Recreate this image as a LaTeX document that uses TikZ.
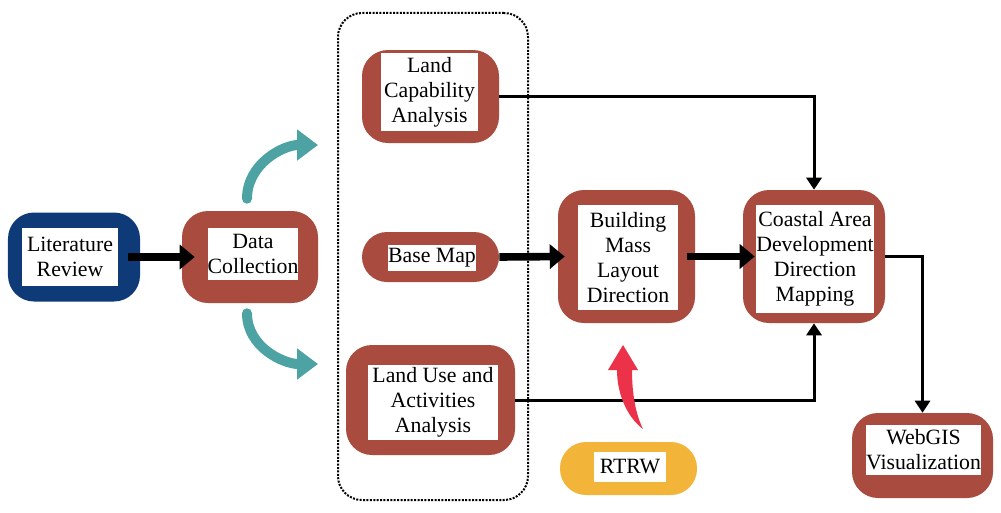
\documentclass[tikz,border=0pt]{standalone}
\usepackage{fontspec}
\setmainfont{Liberation Serif}
\usetikzlibrary{arrows.meta}
\definecolor{boxred}{RGB}{169,75,63}
\definecolor{boxblue}{RGB}{15,58,120}
\definecolor{boxteal}{RGB}{77,163,163}
\definecolor{boxyellow}{RGB}{242,181,58}
\definecolor{arrowred}{RGB}{236,50,72}
\begin{document}
\begin{tikzpicture}[x=0.25mm, y=-0.25mm]
\tikzset{outer/.style = {shape=rectangle, fill=boxred, rounded corners=6.5mm, inner sep=0pt}}
\tikzset{inner/.style = {shape=rectangle, fill=white, inner sep=0pt, align=center, font=\fontsize{15.5}{17.8}\selectfont}}
\tikzset{flow/.style = {line width=1.9mm, -{Triangle[length=3.75mm, width=6mm]}}}
\tikzset{link/.style = {line width=0.75mm, -{Triangle[length=3mm, width=3.75mm]}}}
\tikzset{tealcurve/.style = {draw=boxteal, line width=2.5mm, line cap=round, -{Triangle[length=5.25mm, width=7.5mm]}}}
\useasboundingbox (0,0) rectangle (1001,512);
% group of analyses
\node[draw, densely dotted, line width=0.5mm, rounded corners=6mm, minimum width=47.5mm, minimum height=121.75mm](grp) at (433,256.5) {};
% outer boxes
\node[outer, fill=boxblue, minimum width=33mm, minimum height=22.25mm](lit) at (74,257) {};
\node[outer, minimum width=34mm, minimum height=23mm](data) at (250,257) {};
\node[outer, minimum width=34.25mm, minimum height=23.25mm](cap) at (430.5,96.5) {};
\node[outer, rounded corners=6.25mm, minimum width=34.25mm, minimum height=12.5mm](base) at (430.5,257) {};
\node[outer, minimum width=42.25mm, minimum height=27.5mm](use) at (430.5,400) {};
\node[outer, minimum width=34.25mm, minimum height=33.25mm](build) at (626.5,256.5) {};
\node[outer, fill=boxyellow, minimum width=34.25mm, minimum height=13.25mm](rtrw) at (628.5,468.5) {};
\node[outer, minimum width=35.5mm, minimum height=33.25mm](coast) at (814,256.5) {};
\node[outer, minimum width=35.25mm, minimum height=21.25mm](web) at (922.5,455.5) {};
% text boxes
\node[inner, minimum width=24mm, minimum height=14.5mm](litT) at (70,257) {Literature\\Review};
\node[inner, minimum width=22.5mm, minimum height=13mm](dataT) at (253,254) {Data\\Collection};
\node[inner, minimum width=24.25mm, minimum height=19.5mm](capT) at (429.5,92) {Land\\Capability\\Analysis};
\node[inner, minimum width=22mm, minimum height=6.5mm](baseT) at (432,258) {Base Map};
\node[inner, minimum width=32.5mm, minimum height=18.75mm](useT) at (433,402.5) {Land Use and\\Activities\\Analysis};
\node[inner, minimum width=25mm, minimum height=26.25mm](buildT) at (628,257.5) {Building\\Mass\\Layout\\Direction};
\node[inner, minimum width=18mm, minimum height=7.5mm](rtrwT) at (630,467) {RTRW};
\node[inner, minimum width=28.5mm, minimum height=27mm](coastT) at (815,259) {Coastal Area\\Development\\Direction\\Mapping};
\node[inner, minimum width=28.25mm, minimum height=12.5mm](webT) at (923.5,450) {WebGIS\\Visualization};
% connectors
\coordinate (up) at (318,145);
\coordinate (down) at (318,364);
\draw[flow] ([xshift=-3mm]lit.east) -- ([xshift=3.25mm]data.west);
\draw[tealcurve] ([xshift=-0.75mm, yshift=3mm]data.north) to[out=90, in=180] (up);
\draw[tealcurve] ([xshift=-0.75mm, yshift=-2.5mm]data.south) to[out=-90, in=180] (down);
\draw[flow] (base.east) -- ([xshift=1.75mm]build.west);
\draw[flow] ([xshift=-2mm]build.east) -- ([xshift=3mm]coast.west);
\draw[link] (cap.east) -| (coast.north);
\draw[link] (use.east) -| (coast.south);
\draw[link] (coast.east) -| (web.north);
% red arrow from RTRW
\fill[arrowred] (623,345) -- (638,370) -- (632,370) .. controls (632,395) and (636,415) .. (643,429) .. controls (628,418) and (617,395) .. (617,370) -- (608,370) -- cycle;
\end{tikzpicture}
\end{document}
